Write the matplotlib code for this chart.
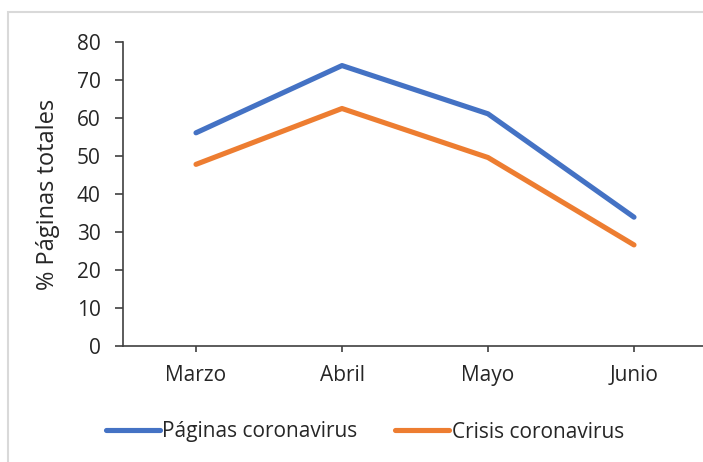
import matplotlib.pyplot as plt
from matplotlib.patches import Rectangle

plt.rcParams["font.family"] = ["Open Sans", "DejaVu Sans"]

months = ["Marzo", "Abril", "Mayo", "Junio"]
paginas = [56.1, 73.8, 61.1, 33.9]
crisis = [47.8, 62.5, 49.6, 26.6]

BLUE = "#4472C4"
ORANGE = "#ED7D31"
AXIS = "#404040"
TXT = "#262626"
FS = 15

fig = plt.figure(figsize=(7.03, 4.62), dpi=100)
W, H = 703, 462

# light grey chart frame
fig.patches.append(Rectangle((8 / W, -0.1), 1.2, 1.1 - 12 / H, transform=fig.transFigure,
                             fill=False, edgecolor="#D9D9D9", linewidth=1.5))

ax = fig.add_axes([123 / W, 1 - 346 / H, 584 / W, 304 / H])
x = [i + 0.5 for i in range(len(months))]
ax.plot(x, paginas, color=BLUE, linewidth=3.7, solid_capstyle="round", solid_joinstyle="round",
        label="Páginas coronavirus")
ax.plot(x, crisis, color=ORANGE, linewidth=3.7, solid_capstyle="round", solid_joinstyle="round",
        label="Crisis coronavirus")

ax.set_xlim(0, len(months))
ax.set_ylim(0, 80)
ax.set_yticks(range(0, 81, 10))
ax.set_xticks(x)
ax.set_xticklabels(months)
for s in ["top", "right"]:
    ax.spines[s].set_visible(False)
for s in ["left", "bottom"]:
    ax.spines[s].set_color(AXIS)
    ax.spines[s].set_linewidth(1.2)
ax.tick_params(axis="y", length=6, width=1.2, color=AXIS, labelsize=FS, labelcolor=TXT, pad=10)
ax.tick_params(axis="x", length=4, width=1.2, color=AXIS, labelsize=FS, labelcolor=TXT, pad=10)
ax.set_ylabel("% Páginas totales", fontsize=17, color=TXT, labelpad=12)
ax.set_facecolor("none")

fig.legend(loc="center", bbox_to_anchor=(365 / W, 1 - 432 / H), ncol=2, frameon=False,
           fontsize=FS, handlelength=2.6, handletextpad=0.12, columnspacing=1.8,
           labelcolor=TXT)

fig.savefig("out.png", dpi=100)
